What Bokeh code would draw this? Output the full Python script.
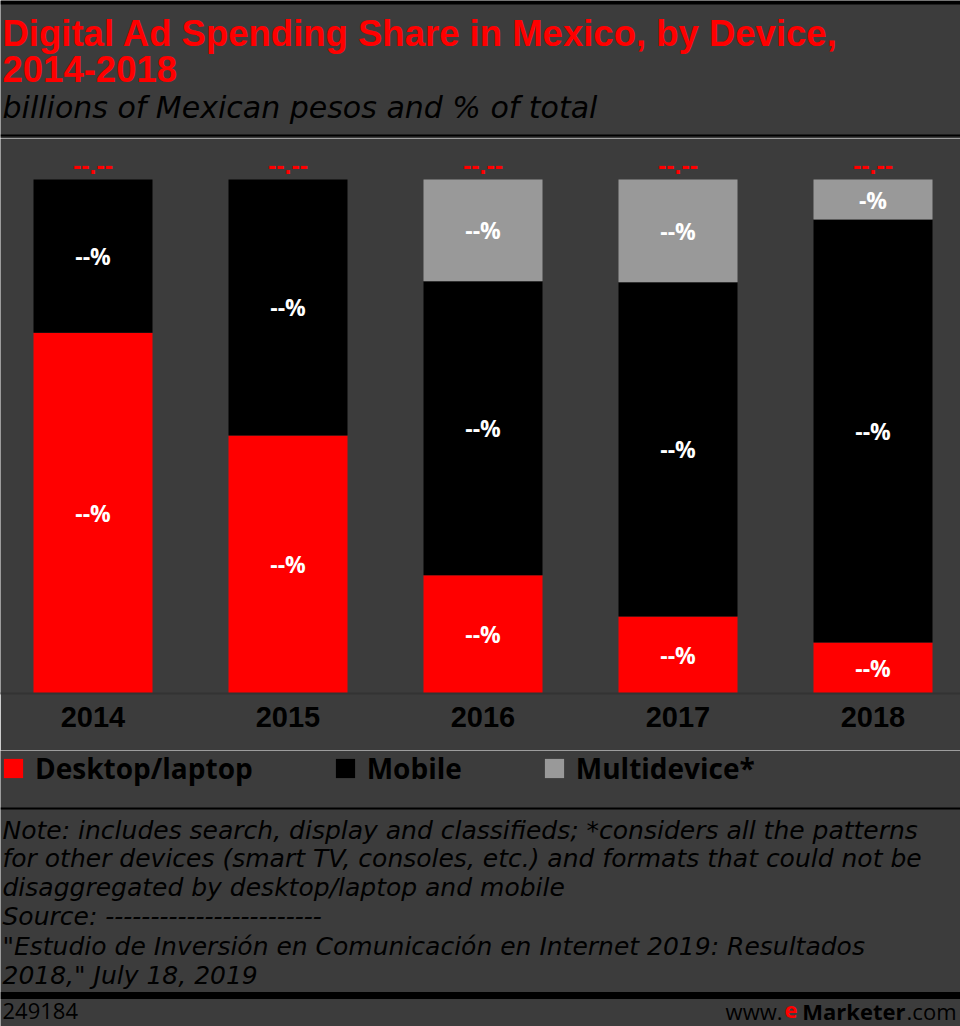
from bokeh.plotting import figure
from bokeh.models import Range1d, Label, Span, Legend, LegendItem, FixedTicker, ColumnDataSource
from bokeh.layouts import column
from bokeh.embed import file_html
from bokeh.resources import INLINE
from bokeh.core.properties import value

# ---------------- data ----------------
years = ["2014", "2015", "2016", "2017", "2018"]
desktop = [70.2, 50.2, 23.0, 15.0, 9.9]
mobile = [29.8, 49.8, 57.2, 65.0, 82.3]
multidevice = [0.0, 0.0, 19.8, 20.0, 7.8]
desktop_labels = ["--%", "--%", "--%", "--%", "--%"]
mobile_labels = ["--%", "--%", "--%", "--%", "--%"]
multidevice_labels = ["", "", "--%", "--%", "-%"]
total_labels = ["--.--", "--.--", "--.--", "--.--", "--.--"]
series_names = ["Desktop/laptop", "Mobile", "Multidevice*"]

title_lines = ["Digital Ad Spending Share in Mexico, by Device,", "2014-2018"]
subtitle = "billions of Mexican pesos and % of total"
note_lines = [
    "Note: includes search, display and classifieds; *considers all the patterns",
    "for other devices (smart TV, consoles, etc.) and formats that could not be",
    "disaggregated by desktop/laptop and mobile",
    "Source: ------------------------",
    "\"Estudio de Inversi\u00f3n en Comunicaci\u00f3n en Internet 2019: Resultados",
    "2018,\" July 18, 2019",
]
chart_id = "249184"

# ---------------- style ----------------
BG = "#3c3c3c"
RED = "#ff0000"
GRAY = "#999999"
COLORS = [RED, "black", GRAY]
W = 960
SANS = "Liberation Sans"
OPEN = "Open Sans"
NOTE = "DejaVu Sans"


def panel(y_top, y_bot):
    p = figure(width=W, height=y_bot - y_top, x_range=Range1d(0, 960), y_range=Range1d(y_bot, y_top),
               output_backend="svg", toolbar_location=None, min_border=0,
               x_axis_location=None, y_axis_location=None)
    p.grid.visible = False
    p.outline_line_color = None
    p.background_fill_color = BG
    p.border_fill_color = BG
    return p


def lab(p, x, y, text, font, size, color="black", style="normal", align="left", baseline="middle"):
    p.add_layout(Label(x=x, y=y, text=text, text_font=font, text_font_size=size,
                       text_color=color, text_font_style=style, text_align=align,
                       text_baseline=baseline))


# ---------------- header ----------------
head = panel(0, 138)
lab(head, 2, 33, title_lines[0], SANS, "36.5px", RED, "bold")
lab(head, 2, 68, title_lines[1], SANS, "36.5px", RED, "bold")
lab(head, 2, 107, subtitle, NOTE, "30px", "black", "italic")
head.add_layout(Span(location=2, dimension="width", line_color="black", line_width=4))
head.add_layout(Span(location=135, dimension="width", line_color="black", line_width=2))

# ---------------- chart ----------------
xs = list(range(len(years)))
d_mid = [d / 2 for d in desktop]
m_mid = [d + m / 2 for d, m in zip(desktop, mobile)]
u_mid = [d + m + u / 2 for d, m, u in zip(desktop, mobile, multidevice)]
totals = [d + m + u for d, m, u in zip(desktop, mobile, multidevice)]

src = ColumnDataSource(dict(x=xs, desktop=desktop, mobile=mobile, multidevice=multidevice))

step = 195.0
chart = figure(width=W, height=612,
               x_range=Range1d(-92.5 / step, (960 - 92.5) / step),
               y_range=Range1d(0, 100 + (179 - 138) / 5.14),
               output_backend="svg", toolbar_location=None,
               min_border_left=0, min_border_right=0, min_border_top=0, min_border_bottom=57,
               y_axis_location=None)
chart.grid.visible = False
chart.outline_line_color = None
chart.background_fill_color = BG
chart.border_fill_color = BG

chart.vbar_stack(["desktop", "mobile", "multidevice"], x="x", width=119 / step,
                 fill_color=COLORS, line_color=None, source=src)

lbl_src = ColumnDataSource(dict(
    x=xs * 3,
    y=d_mid + m_mid + u_mid,
    t=desktop_labels + mobile_labels + multidevice_labels,
))
chart.text(x="x", y="y", text="t", source=lbl_src, text_color="white",
           text_font=value(OPEN), text_font_style="bold", text_font_size="23px",
           text_align="center", text_baseline="middle")

tot_src = ColumnDataSource(dict(x=xs, y=totals, t=total_labels))
chart.text(x="x", y="y", text="t", source=tot_src, text_color=RED,
           text_font=value(SANS), text_font_style="bold", text_font_size="25px",
           text_align="center", text_baseline="middle", y_offset=-15)

ax = chart.xaxis[0]
ax.ticker = FixedTicker(ticks=xs)
ax.major_label_overrides = {i: y for i, y in zip(xs, years)}
ax.major_label_text_font = SANS
ax.major_label_text_font_style = "bold"
ax.major_label_text_font_size = "29px"
ax.major_label_text_color = "black"
ax.major_tick_line_color = None
ax.minor_tick_line_color = None
ax.major_tick_out = 0
ax.major_tick_in = 0
ax.minor_tick_out = 0
ax.axis_line_color = "#333333"
ax.axis_line_width = 2
ax.major_label_standoff = 13

# ---------------- footer (legend + notes) ----------------
foot = panel(750, 1026)
legend_rends = []
for name, series, c in zip(series_names, [desktop, mobile, multidevice], COLORS):
    r = foot.vbar(x=xs, top=series, width=0.5, fill_color=c, line_color=None)
    r.visible = False
    legend_rends.append(r)
legend = Legend(items=[LegendItem(label=n, renderers=[r]) for n, r in zip(series_names, legend_rends)],
                orientation="horizontal", location=(1, 239), margin=0, padding=0,
                spacing=80, label_standoff=10, glyph_width=24, glyph_height=24, label_height=24,
                label_text_font=OPEN, label_text_font_style="bold", label_text_font_size="28px",
                label_text_color="black", border_line_color=None,
                background_fill_alpha=0, inactive_fill_alpha=0)
foot.add_layout(legend)

foot.add_layout(Span(location=808, dimension="width", line_color="black", line_width=2))
for t, y in zip(note_lines, [830, 858, 887, 916, 946, 975]):
    lab(foot, 2, y, t, NOTE, "25px", "black", "italic")
foot.add_layout(Span(location=995, dimension="width", line_color="black", line_width=7))
FY = 1010
lab(foot, 2, FY, chart_id, OPEN, "22px")
lab(foot, 956, FY, ".com", OPEN, "22px", "black", "normal", "right")
lab(foot, 905, FY, "Marketer", OPEN, "22px", "black", "bold", "right")
lab(foot, 797, FY, "e", OPEN, "22px", RED, "bold", "right")
lab(foot, 782, FY, "www.", OPEN, "22px", "black", "normal", "right")

layout = column(head, chart, foot, spacing=0)
open("out.html", "w").write(file_html(layout, INLINE))
